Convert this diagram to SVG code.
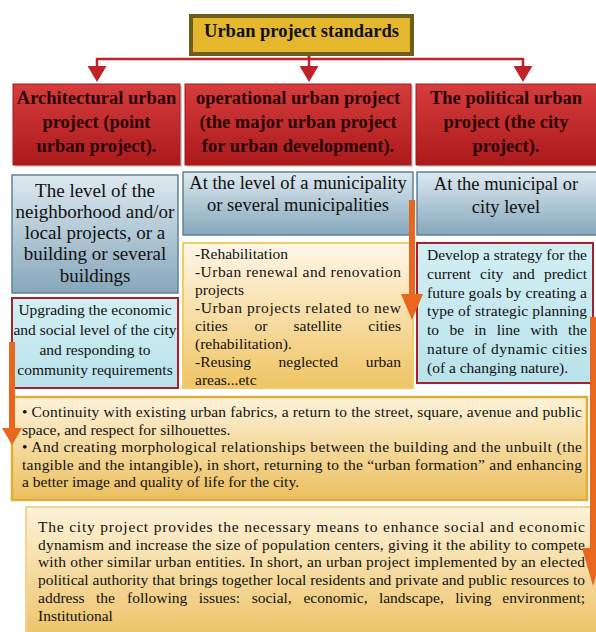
<svg xmlns="http://www.w3.org/2000/svg" width="596" height="632" viewBox="0 0 596 632" font-family="Liberation Serif, serif">
<defs>
<linearGradient id="gRed" x1="0" y1="0" x2="0" y2="1"><stop offset="0" stop-color="#d63c3c"/><stop offset="1" stop-color="#ac1a1c"/></linearGradient>
<linearGradient id="gBlue" x1="0" y1="0" x2="0" y2="1"><stop offset="0" stop-color="#dde9f0"/><stop offset="1" stop-color="#86a7bb"/></linearGradient>
<linearGradient id="gCyan" x1="0" y1="0" x2="0" y2="1"><stop offset="0" stop-color="#d2eff3"/><stop offset="1" stop-color="#b9e2ea"/></linearGradient>
<linearGradient id="gCream" x1="0" y1="0" x2="0" y2="1"><stop offset="0" stop-color="#fef7e8"/><stop offset="1" stop-color="#f0c464"/></linearGradient>
<linearGradient id="gGold" x1="0" y1="0" x2="0" y2="1"><stop offset="0" stop-color="#fdf3da"/><stop offset="1" stop-color="#ecbf5e"/></linearGradient>
</defs>
<style>
text{font-family:"Liberation Serif",serif;fill:#111}
.b{font-weight:bold}
.h{font-size:18.5px;font-weight:bold;fill:#2a0606}
.m{font-size:19px}
.m2{font-size:18.5px}
.s{font-size:15.5px}
.shadow{fill:#000;opacity:0.18}
.red{fill:url(#gRed);stroke:#a8181c;stroke-width:1}
.blue{fill:url(#gBlue);stroke:#5e8299;stroke-width:1.5}
.cyan{fill:url(#gCyan);stroke:#a3222e;stroke-width:2}
.cream{fill:url(#gCream);stroke:#f2cc66;stroke-width:2}
.gold{fill:url(#gGold);stroke:#dcae3a;stroke-width:2.5}
.gold2{fill:url(#gGold);stroke:#f3d68a;stroke-width:2}
.conn{fill:none;stroke:#c0222a;stroke-width:2.5}
.head{fill:#c0222a}
.oa{fill:#e8661e}
</style>

<g id="connectors">
<path class="conn" d="M309 55 V59 H97 V66"/>
<path class="conn" d="M309 55 V66"/>
<path class="conn" d="M309 59 H523 V66"/>
<polygon class="head" points="87.5,66 106.5,66 97,82"/>
<polygon class="head" points="299.5,66 318.5,66 309,82"/>
<polygon class="head" points="513.5,66 532.5,66 523,82"/>
</g>

<g id="title">
<rect x="191" y="16" width="221" height="38" fill="#e4b72c" stroke="#6f5d1c" stroke-width="4"/>
<text class="b" x="301.5" y="37" font-size="18.5" text-anchor="middle">Urban project standards</text>
</g>

<g id="arch">
<rect class="shadow" x="15" y="86" width="167" height="81"/>
<rect class="red" x="13" y="84" width="167" height="81"/>
<text class="h" text-anchor="middle"><tspan x="96.5" y="104">Architectural urban</tspan><tspan x="96.5" y="128">project (point</tspan><tspan x="96.5" y="152">urban project).</tspan></text>
</g>
<g id="oper">
<rect class="shadow" x="187" y="86" width="226" height="81"/>
<rect class="red" x="185" y="84" width="226" height="81"/>
<text class="h" text-anchor="middle"><tspan x="298" y="104">operational urban project</tspan><tspan x="298" y="128">(the major urban project</tspan><tspan x="298" y="152">for urban development).</tspan></text>
</g>
<g id="polit">
<rect class="shadow" x="418" y="86" width="184" height="81"/>
<rect class="red" x="416" y="84" width="184" height="81"/>
<text class="h" text-anchor="middle"><tspan x="506" y="104">The political urban</tspan><tspan x="506" y="128">project (the city</tspan><tspan x="506" y="152">project).</tspan></text>
</g>

<g id="level1">
<rect class="blue" x="12" y="175" width="166" height="118"/>
<text class="m" text-anchor="middle"><tspan x="95" y="197">The level of the</tspan><tspan x="95" y="218">neighborhood and/or</tspan><tspan x="95" y="239">local projects, or a</tspan><tspan x="95" y="260">building or several</tspan><tspan x="95" y="282">buildings</tspan></text>
</g>
<g id="level2">
<rect class="blue" x="183" y="172" width="230" height="63"/>
<text class="m2" text-anchor="middle"><tspan x="298" y="189">At the level of a municipality</tspan><tspan x="298" y="211">or several municipalities</tspan></text>
</g>
<g id="level3">
<rect class="blue" x="417" y="172" width="183" height="63"/>
<text class="m2" text-anchor="middle"><tspan x="506" y="190">At the municipal or</tspan><tspan x="506" y="213">city level</tspan></text>
</g>

<g id="goal1">
<rect class="cyan" x="12" y="298" width="166" height="90"/>
<text class="s" text-anchor="middle"><tspan x="95" y="315">Upgrading the economic</tspan><tspan x="95" y="335">and social level of the city</tspan><tspan x="95" y="355">and responding to</tspan><tspan x="95" y="375">community requirements</tspan></text>
</g>

<g id="types">
<rect class="cream" x="183" y="243" width="230" height="145"/>
<text class="s">
<tspan x="195" y="259">-Rehabilitation</tspan>
<tspan x="195" y="277" textLength="206" lengthAdjust="spacing">-Urban renewal and renovation</tspan>
<tspan x="195" y="295">projects</tspan>
<tspan x="195" y="313" textLength="206" lengthAdjust="spacing">-Urban projects related to new</tspan>
<tspan x="195" y="331">cities</tspan><tspan x="254.5" y="331">or</tspan><tspan x="293.5" y="331">satellite</tspan>
<tspan x="195" y="349">(rehabilitation).</tspan>
<tspan x="195" y="367">-Reusing</tspan><tspan x="278.5" y="367">neglected</tspan>
<tspan x="195" y="385">areas...etc</tspan>
</text>
<text class="s" text-anchor="end"><tspan x="401" y="331">cities</tspan><tspan x="401" y="367">urban</tspan></text>
</g>

<g id="goal3">
<rect class="cyan" x="417" y="243" width="176" height="140"/>
<text class="s">
<tspan x="427" y="260" textLength="160" lengthAdjust="spacing">Develop a strategy for the</tspan>
<tspan x="427" y="279">current</tspan><tspan x="480" y="279">city</tspan><tspan x="512.4" y="279">and</tspan>
<tspan x="427" y="297.5" textLength="160" lengthAdjust="spacing">future goals by creating a</tspan>
<tspan x="427" y="316" textLength="160" lengthAdjust="spacing">type of strategic planning</tspan>
<tspan x="427" y="335">to</tspan><tspan x="449.4" y="335">be</tspan><tspan x="474.3" y="335">in</tspan><tspan x="496.7" y="335">line</tspan><tspan x="530.2" y="335">with</tspan>
<tspan x="427" y="354" textLength="160" lengthAdjust="spacing">nature of dynamic cities</tspan>
<tspan x="427" y="373">(of a changing nature).</tspan>
</text>
<text class="s" text-anchor="end"><tspan x="587" y="279">predict</tspan><tspan x="587" y="335">the</tspan></text>
</g>

<g id="morph">
<rect class="gold" x="12" y="397" width="575" height="103"/>
<text class="s">
<tspan x="22" y="417" textLength="560" lengthAdjust="spacing">•  Continuity with existing urban fabrics, a return to the street, square, avenue and public</tspan>
<tspan x="22" y="435">space, and respect for silhouettes.</tspan>
<tspan x="22" y="452" textLength="560" lengthAdjust="spacing">• And creating morphological relationships between the building and the unbuilt (the</tspan>
<tspan x="22" y="470" textLength="560" lengthAdjust="spacing">tangible and the intangible), in short, returning to the “urban formation” and enhancing</tspan>
<tspan x="22" y="487">a better image and quality of life for the city.</tspan>
</text>
</g>

<g id="city">
<rect class="gold2" x="26" y="507" width="580" height="140"/>
<text class="s">
<tspan x="38" y="532" textLength="547" lengthAdjust="spacing">The city project provides the necessary means to enhance social and economic</tspan>
<tspan x="38" y="549.5" textLength="547" lengthAdjust="spacing">dynamism and increase the size of population centers, giving it the ability to compete</tspan>
<tspan x="38" y="567" textLength="547" lengthAdjust="spacing">with other similar urban entities. In short, an urban project implemented by an elected</tspan>
<tspan x="38" y="585" textLength="547" lengthAdjust="spacing">political authority that brings together local residents and private and public resources to</tspan>
<tspan x="38" y="603">address</tspan><tspan x="96" y="603">the</tspan><tspan x="127" y="603">following</tspan><tspan x="198.7" y="603">issues:</tspan><tspan x="251.7" y="603">social,</tspan><tspan x="303.4" y="603">economic,</tspan><tspan x="378.9" y="603">landscape,</tspan><tspan x="455.3" y="603">living</tspan>
<tspan x="38" y="620.5">Institutional</tspan>
</text>
<text class="s" text-anchor="end"><tspan x="585" y="603">environment;</tspan></text>
</g>

<g id="flow-arrows">
<rect class="oa" x="9" y="342" width="6" height="88"/>
<polygon class="oa" points="2,428 22,428 12,445"/>
<rect class="oa" x="409" y="200" width="6" height="96"/>
<polygon class="oa" points="401,294 423,294 412,320"/>
<rect class="oa" x="590" y="317" width="6" height="233"/>
<polygon class="oa" points="582,548 604,548 593,586"/>
</g>
</svg>
